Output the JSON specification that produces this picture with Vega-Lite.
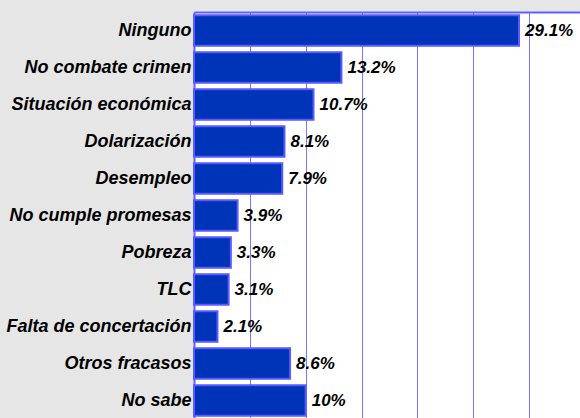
{
  "$schema": "https://vega.github.io/schema/vega-lite/v6.json",
  "width": 386,
  "height": 407,
  "autosize": "none",
  "padding": {"left": 194, "top": 12, "right": 0, "bottom": 0},
  "background": "#e6e6e6",
  "config": {"view": {"fill": "white", "stroke": null}},
  "data": {
    "values": [
      {"cat": "Ninguno", "pct": 29.1, "label": "29.1%"},
      {"cat": "No combate crimen", "pct": 13.2, "label": "13.2%"},
      {"cat": "Situación económica", "pct": 10.7, "label": "10.7%"},
      {"cat": "Dolarización", "pct": 8.1, "label": "8.1%"},
      {"cat": "Desempleo", "pct": 7.9, "label": "7.9%"},
      {"cat": "No cumple promesas", "pct": 3.9, "label": "3.9%"},
      {"cat": "Pobreza", "pct": 3.3, "label": "3.3%"},
      {"cat": "TLC", "pct": 3.1, "label": "3.1%"},
      {"cat": "Falta de concertación", "pct": 2.1, "label": "2.1%"},
      {"cat": "Otros fracasos\u00a0", "pct": 8.6, "label": "8.6%"},
      {"cat": "No sabe", "pct": 10, "label": "10%"}
    ]
  },
  "encoding": {
    "y": {
      "field": "cat", "type": "nominal", "sort": null, "title": null,
      "scale": {"paddingInner": 0.17, "paddingOuter": 0.085},
      "axis": {
        "ticks": false, "domain": true, "domainColor": "#6060ff", "domainWidth": 2,
        "labelFont": "Liberation Sans", "labelFontStyle": "italic", "labelFontWeight": "bold",
        "labelFontSize": 18, "labelColor": "#000000", "labelPadding": 3, "labelLimit": 300
      }
    },
    "x": {
      "field": "pct", "type": "quantitative", "title": null,
      "scale": {"domain": [0, 34.56], "nice": false, "zero": true},
      "axis": {
        "orient": "top", "values": [0, 5, 10, 15, 20, 25, 30], "labels": false, "ticks": false,
        "domain": true, "domainColor": "#6060ff", "domainWidth": 2,
        "grid": true, "gridColor": "#7878ff", "gridWidth": 1
      }
    }
  },
  "layer": [
    {
      "mark": {"type": "bar", "fill": "#0034b8", "stroke": "#5a5aff", "strokeWidth": 2}
    },
    {
      "mark": {
        "type": "text", "align": "left", "baseline": "middle", "dx": 6,
        "font": "Liberation Sans", "fontStyle": "italic", "fontWeight": "bold", "fontSize": 17, "color": "#000000"
      },
      "encoding": {"text": {"field": "label"}}
    }
  ]
}
